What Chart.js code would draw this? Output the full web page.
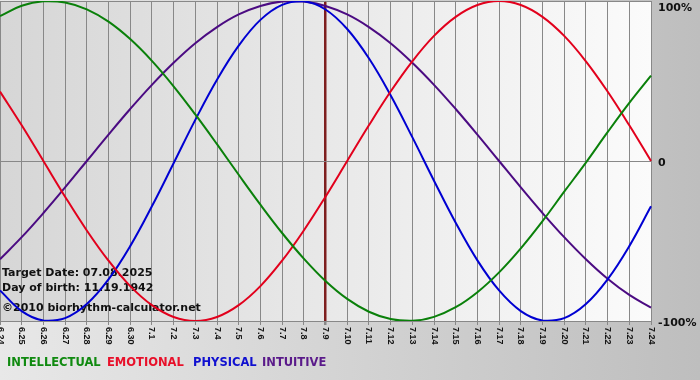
<!DOCTYPE html>
<html>
<head>
<meta charset="utf-8">
<script src="https://cdn.jsdelivr.net/npm/chart.js@4.4.1/dist/chart.umd.min.js"></script>
<style>
  html, body { margin: 0; padding: 0; background: #d0d0d0; }
  #wrap { width: 700px; height: 380px; }
</style>
</head>
<body>
<div id="wrap"><canvas id="bio" width="700" height="380"></canvas></div>
<script>
// Days shown on the x axis
const days = ['6.24', '6.25', '6.26', '6.27', '6.28', '6.29', '6.30', '7.1', '7.2', '7.3', '7.4', '7.5',
    '7.6', '7.7', '7.8', '7.9', '7.10', '7.11', '7.12', '7.13', '7.14', '7.15', '7.16', '7.17', '7.18',
    '7.19', '7.20', '7.21', '7.22', '7.23', '7.24'];

// Cycle values in percent
const intellectual = [90.6, 97.0, 99.8, 99.1, 94.8, 87.1, 76.2, 62.6, 46.7, 29.1, 10.5, -8.6, -27.3, -45.0,
    -61.0, -75.0, -86.2, -94.2, -98.8, -99.9, -97.4, -91.4, -82.0, -69.6, -54.6, -37.6, -19.2, -1.0,
    18.0, 36.3, 53.3];
const emotional = [43.4, 22.3, 0, -22.3, -43.4, -62.3, -78.2, -90.1, -97.5, -100, -97.5, -90.1, -78.2,
    -62.3, -43.4, -22.3, 0, 22.3, 43.4, 62.3, 78.2, 90.1, 97.5, 100, 97.5, 90.1, 78.2, 62.3, 43.4, 22.3, 0];
const physical = [-80.9, -93.8, -99.7, -98.2, -89.4, -74.0, -53.2, -28.3, -1.4, 25.7, 50.8, 72.1, 88.2,
    97.6, 99.8, 94.7, 82.5, 64.2, 41.1, 14.9, -12.3, -38.6, -62.1, -80.9, -93.8, -99.7, -98.2, -89.4,
    -74.0, -53.2, -28.3];
const intuitive = [-61.4, -47.6, -32.5, -16.5, 0, 16.5, 32.5, 47.6, 61.4, 73.6, 83.7, 91.6, 96.9, 99.7,
    99.7, 96.9, 91.6, 83.7, 73.6, 61.4, 47.6, 32.5, 16.5, 0, -16.5, -32.5, -47.6, -61.4, -73.6, -83.7, -91.6];

// Right axis ticks and captions
const yTicks = [100, 0, -100];
const yTickLabels = ['100%', '0', '-100%'];
const targetDay = '7.9';
const infoLines = ['Target Date: 07.08.2025', 'Day of birth: 11.19.1942', '\u00a92010 biorhythm-calculator.net'];
const seriesNames = ['INTELLECTUAL', 'EMOTIONAL', 'PHYSICAL', 'INTUITIVE'];

const colors = {
    intellectual: '#0a800a',
    emotional: '#e2001c',
    physical: '#0000d2',
    intuitive: '#4b0b82',
};
const legendColors = ['#108a10', '#e8102a', '#1010d0', '#5a1a8a'];
const legendX = [7, 107, 193, 262];
const boldFont = 'bold 11px "DejaVu Sans"';

// Backgrounds: canvas and plot area gradients
const backgroundPlugin = {
    id: 'bioBackground',
    beforeDraw(chart) {
        const { ctx, width, height, chartArea } = chart;
        ctx.save();
        const bg = ctx.createLinearGradient(0, 0, width, 0);
        bg.addColorStop(0, '#e8e8e8');
        bg.addColorStop(1, '#bebebe');
        ctx.fillStyle = bg;
        ctx.fillRect(0, 0, width, height);

        const plot = ctx.createLinearGradient(chartArea.left, 0, chartArea.right, 0);
        plot.addColorStop(0, '#d6d6d6');
        plot.addColorStop(1, '#fbfbfb');
        ctx.fillStyle = plot;
        ctx.fillRect(chartArea.left, chartArea.top, chartArea.right - chartArea.left, chartArea.bottom - chartArea.top);
        ctx.restore();
    },
    // info text sits under the curves
    beforeDatasetsDraw(chart) {
        const { ctx } = chart;
        ctx.save();
        ctx.font = boldFont;
        ctx.fillStyle = '#111';
        ctx.textBaseline = 'alphabetic';
        ctx.textAlign = 'left';
        const baselines = [276, 291, 311];
        infoLines.forEach((line, i) => ctx.fillText(line, 2, baselines[i]));
        ctx.restore();
    },
};

// Rotated day labels, right axis labels and the coloured legend
const labelsPlugin = {
    id: 'bioLabels',
    afterDraw(chart) {
        const { ctx } = chart;
        const xScale = chart.scales.x;
        const yScale = chart.scales.y;
        ctx.save();

        ctx.font = 'bold 9px "Liberation Sans"';
        ctx.fillStyle = '#151515';
        ctx.textAlign = 'left';
        ctx.textBaseline = 'middle';
        days.forEach((d, i) => {
            const x = xScale.getPixelForValue(i);
            ctx.save();
            ctx.translate(x, 327);
            ctx.rotate(Math.PI / 2);
            ctx.fillText(d, 0, 0);
            ctx.restore();
        });

        ctx.font = boldFont;
        ctx.fillStyle = '#111';
        yTicks.forEach((v, i) => {
            const y = Math.max(yScale.getPixelForValue(v) + 2, 8);
            ctx.fillText(yTickLabels[i], xScale.right + 7, y);
        });

        ctx.font = 'bold 11.5px "DejaVu Sans"';
        ctx.textBaseline = 'alphabetic';
        seriesNames.forEach((name, i) => {
            ctx.fillStyle = legendColors[i];
            ctx.fillText(name, legendX[i], 366);
        });
        ctx.restore();
    },
};

const makeSet = (data, color) => ({
    data,
    borderColor: color,
    borderWidth: 2,
    pointRadius: 0,
    tension: 0.4,
    fill: false,
});

const ctx = document.getElementById('bio').getContext('2d');
new Chart(ctx, {
    type: 'line',
    data: {
        labels: days,
        datasets: [
            makeSet(intellectual, colors.intellectual),
            makeSet(emotional, colors.emotional),
            makeSet(physical, colors.physical),
            makeSet(intuitive, colors.intuitive),
        ],
    },
    options: {
        responsive: false,
        animation: false,
        devicePixelRatio: 1,
        layout: { padding: { left: 0, top: 1, right: 0, bottom: 0 } },
        plugins: {
            legend: { display: false },
            tooltip: { enabled: false },
        },
        scales: {
            x: {
                type: 'category',
                offset: false,
                ticks: { display: false },
                grid: {
                    color: c => (days[c.index] === targetDay ? '#7e1f1f' : '#888888'),
                    lineWidth: c => (days[c.index] === targetDay ? 2.5 : 1),
                    drawTicks: true,
                    tickLength: 4,
                    tickColor: '#888888',
                },
                border: { color: '#888888' },
                afterFit: scale => { scale.height = 59; },
            },
            y: {
                position: 'right',
                min: -100,
                max: 100,
                ticks: { display: false, stepSize: 100 },
                grid: { color: '#888888', drawTicks: false },
                border: { color: '#888888' },
                afterFit: scale => { scale.width = 49; },
            },
        },
    },
    plugins: [backgroundPlugin, labelsPlugin],
});
</script>
</body>
</html>
